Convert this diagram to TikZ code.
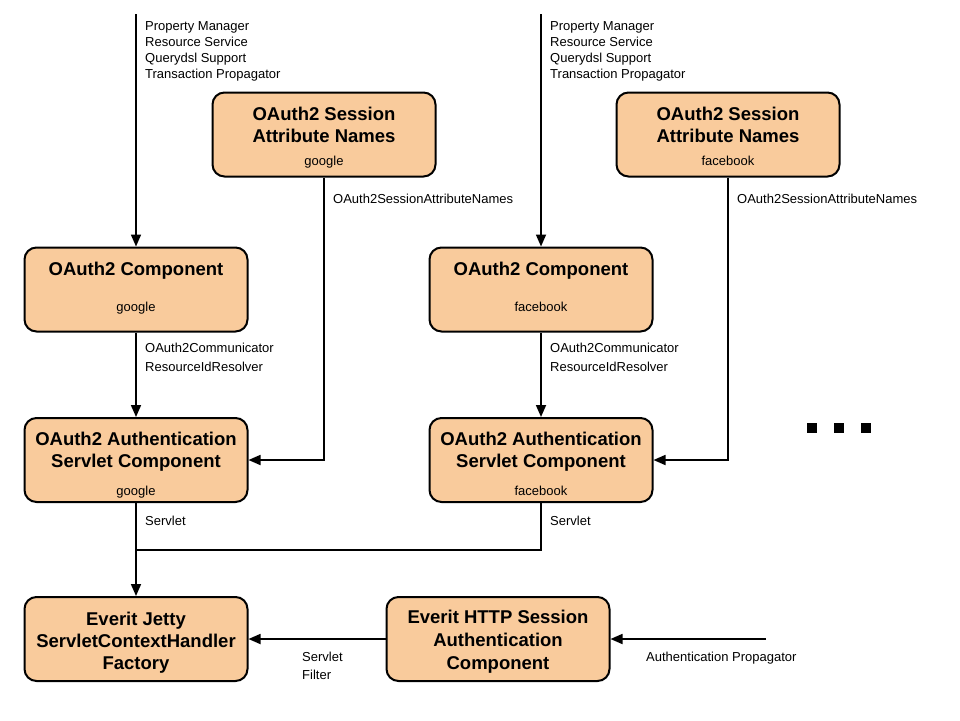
\documentclass[tikz,border=0pt]{standalone}
\usepackage{fontspec}
\setmainfont{Liberation Sans}
\usetikzlibrary{arrows.meta}
\definecolor{boxfill}{HTML}{F9CB9C}

\begin{document}
\begin{tikzpicture}[
  x = 1pt, y = -1pt,
  block/.style = {
    shape = rectangle,
    rounded corners = 12pt,
    draw = black,
    fill = boxfill,
    line width = 2pt,
    minimum width = 223pt,
    minimum height = 84pt,
    inner sep = 0pt,
  },
  title/.style = {
    font = \fontsize{18.5}{22}\selectfont\bfseries,
    align = center,
    inner sep = 0pt,
    anchor = base,
  },
  small/.style = {
    font = \fontsize{13}{16}\selectfont,
    align = left,
    inner sep = 0pt,
    anchor = base west,
  },
  sub/.style = {
    font = \fontsize{13}{16}\selectfont,
    inner sep = 0pt,
    anchor = base,
  },
  dot/.style = {
    shape = rectangle,
    fill = black,
    minimum size = 10pt,
    inner sep = 0pt,
  }
]
  \useasboundingbox (0, 0) rectangle (960, 720);

  % google column
  \node[block] (attr1) at (324, 134.5) {};
  \node[block] (comp1) at (136, 289.5) {};
  \node[block] (serv1) at (136, 460) {};
  \node[block] (jetty) at (136, 639) {};
  \node[block] (http) at (498, 639) {};

  % facebook column
  \node[block] (attr2) at (728, 134.5) {};
  \node[block] (comp2) at (541, 289.5) {};
  \node[block] (serv2) at (541, 460) {};

  % base of a text is its last line
  \node[title] (attr1 t) at (324, 142.7) {OAuth2 Session\\Attribute Names};
  \node[sub] (attr1 s) at (324, 165.5) {google};
  \node[title] (comp1 t) at (136, 275.5) {OAuth2 Component};
  \node[sub] (comp1 s) at (136, 311) {google};
  \node[title] (serv1 t) at (136, 467.2) {OAuth2 Authentication\\Servlet Component};
  \node[sub] (serv1 s) at (136, 495.5) {google};

  \node[title] (attr2 t) at (728, 142.7) {OAuth2 Session\\Attribute Names};
  \node[sub] (attr2 s) at (728, 165.5) {facebook};
  \node[title] (comp2 t) at (541, 275.5) {OAuth2 Component};
  \node[sub] (comp2 s) at (541, 311) {facebook};
  \node[title] (serv2 t) at (541, 467.2) {OAuth2 Authentication\\Servlet Component};
  \node[sub] (serv2 s) at (541, 495.5) {facebook};

  \node[title, font = \fontsize{18.5}{22.3}\selectfont\bfseries] (jetty t) at (136, 669.6)
    {Everit Jetty\\ServletContextHandler\\Factory};
  \node[title, font = \fontsize{18.5}{23}\selectfont\bfseries] (http t) at (498, 669)
    {Everit HTTP Session\\Authentication\\Component};

  \foreach \i/\x in {1/812, 2/839, 3/866}
    \node[dot] (dot\i) at (\x, 428) {};

  \coordinate (in1) at (136, 14);
  \coordinate (in2) at (541, 14);
  \coordinate (join) at (136, 550);
  \coordinate (auth) at (766, 639);

  \begin{scope}[
    every path/.style = {line width = 1.7pt, -{Triangle[length = 12pt, width = 10pt]}}
  ]
    \draw (in1) -- (comp1);
    \draw (comp1) -- (serv1);
    \draw (attr1.south) |- (serv1.east);
    \draw (serv1) -- (jetty);

    \draw (in2) -- (comp2);
    \draw (comp2) -- (serv2);
    \draw (attr2.south) |- (serv2.east);
    \draw[-] (serv2.south) |- (join);

    \draw (http) -- (jetty);
    \draw (auth) -- (http);
  \end{scope}

  \node[small] (needs1) at (145, 78)
    {Property Manager\\Resource Service\\Querydsl Support\\Transaction Propagator};
  \node[small] (names1) at (333, 203) {OAuth2SessionAttributeNames};
  \node[small] (prov1) at (145, 371) {OAuth2Communicator\\[2.5pt]ResourceIdResolver};
  \node[small] (out1) at (145, 525) {Servlet};

  \node[small] (needs2) at (550, 78)
    {Property Manager\\Resource Service\\Querydsl Support\\Transaction Propagator};
  \node[small] (names2) at (737, 203) {OAuth2SessionAttributeNames};
  \node[small] (prov2) at (550, 371) {OAuth2Communicator\\[2.5pt]ResourceIdResolver};
  \node[small] (out2) at (550, 525) {Servlet};

  \node[small] (filt) at (302, 679) {Servlet\\[1.5pt]Filter};
  \node[small] (authl) at (646, 661) {Authentication Propagator};
\end{tikzpicture}
\end{document}
